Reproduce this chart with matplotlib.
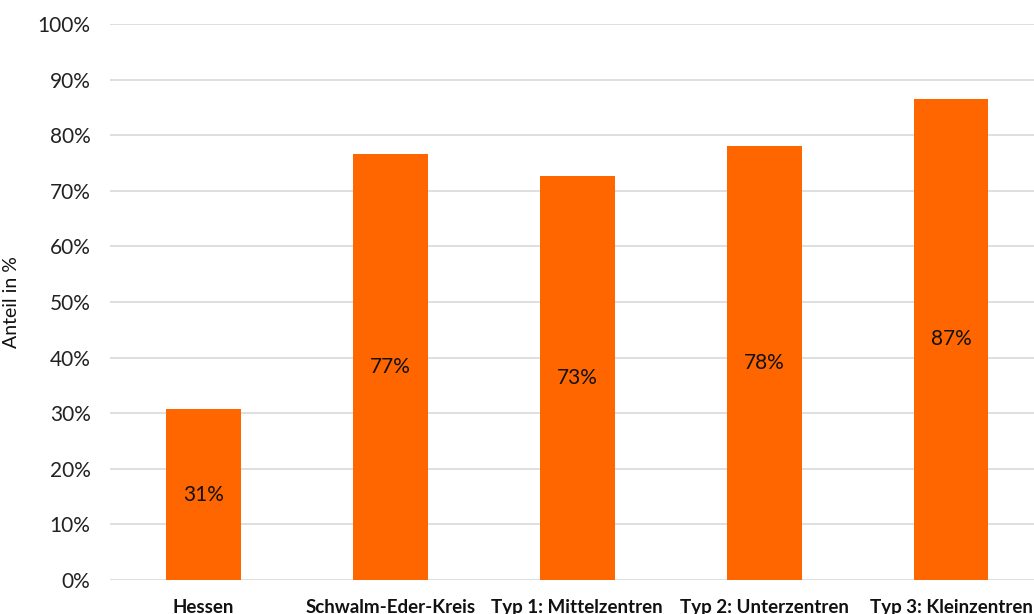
import matplotlib
matplotlib.use("Agg")
import matplotlib.pyplot as plt
from matplotlib.ticker import PercentFormatter

# Anteil je Region (in %)
categories = ["Hessen", "Schwalm-Eder-Kreis", "Typ 1: Mittelzentren",
              "Typ 2: Unterzentren", "Typ 3: Kleinzentren"]
values = [30.7, 76.7, 72.7, 78.0, 86.6]
labels = ["31%", "77%", "73%", "78%", "87%"]

ORANGE = "#FF6600"

plt.rcParams['font.family'] = ['Lato', 'DejaVu Sans']

fig = plt.figure(figsize=(10.34, 6.14), dpi=100)
# Achse reicht rechts etwas über den Bildrand hinaus (wie im Original)
ax_w = 934.5 / 1034
ax = fig.add_axes([110 / 1034, 34 / 614, ax_w, 556 / 614])

x = range(len(categories))
bars = ax.bar(x, values, width=0.4, color=ORANGE, zorder=3)

for bar, lab in zip(bars, labels):
    ax.text(bar.get_x() + bar.get_width() / 2, bar.get_height() / 2, lab,
            ha="center", va="center", fontsize=15, color="#111111", zorder=4)

ax.set_xlim(-0.5, len(categories) - 0.5)
ax.set_ylim(0, 100)
ax.set_yticks(range(0, 101, 10))
ax.yaxis.set_major_formatter(PercentFormatter(decimals=0))
ax.set_xticks(list(x))
ax.set_xticklabels(categories, fontweight="bold", fontsize=13.5, color="#111111")

ax.grid(axis="y", color="#d9d9d9", linewidth=1.2, zorder=0)
for s in ["top", "right", "left", "bottom"]:
    ax.spines[s].set_visible(False)
ax.tick_params(axis="both", length=0)
ax.tick_params(axis="y", labelsize=15, labelcolor="#222222", pad=14)
ax.tick_params(axis="x", pad=14)

ax.set_ylabel("Anteil in %", fontsize=14, color="#111111")
# Beschriftung bei ca. x=20px im Bild
ax.yaxis.set_label_coords(-90 / 934.5, 0.5)

fig.savefig("out.png", dpi=100)
